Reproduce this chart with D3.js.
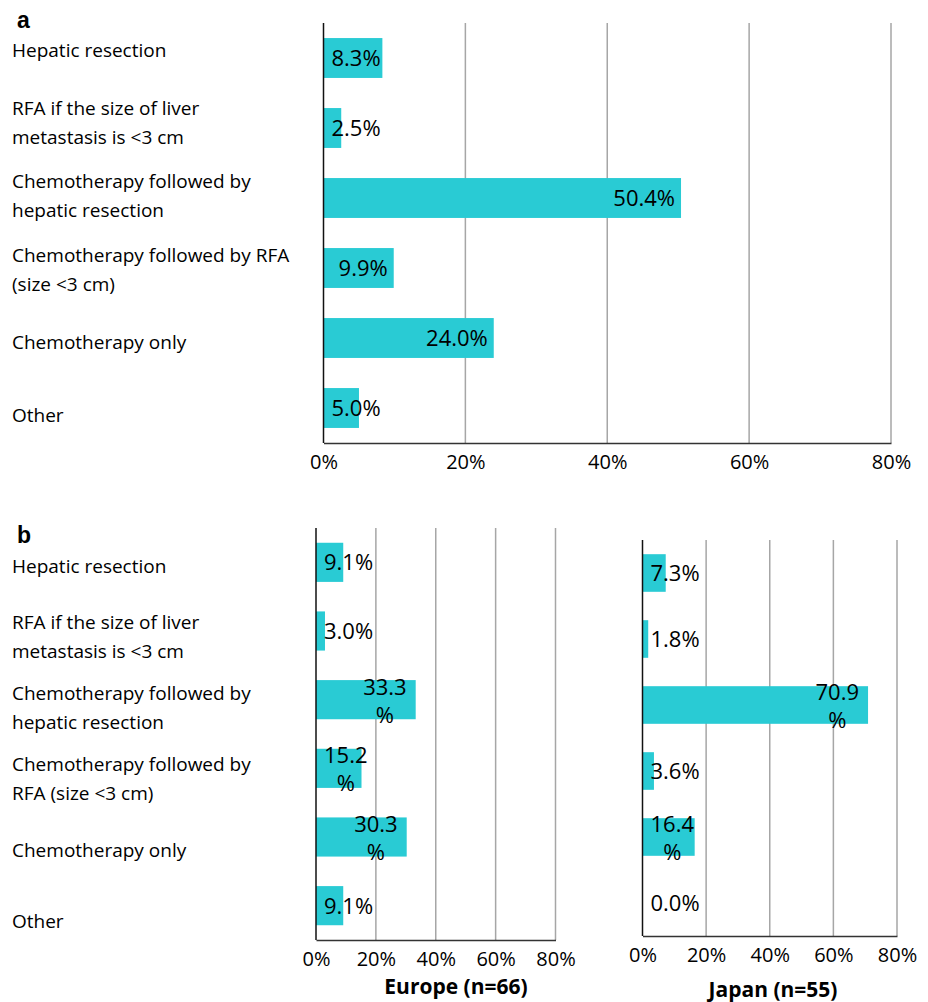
<!DOCTYPE html>
<html>
<head>
<meta charset="utf-8">
<script src="https://cdn.jsdelivr.net/npm/d3@7"></script>
<style>
    body { margin: 0; background: #fff; }
    svg text { font-family: "Open Sans", sans-serif; fill: #000; }
</style>
</head>
<body>
<svg id="chart" width="928" height="1002"></svg>
<script>
// category labels, already broken into lines the way each panel shows them
var categoriesA = [
    ["Hepatic resection"],
    ["RFA if the size of liver", "metastasis is <3 cm"],
    ["Chemotherapy followed by", "hepatic resection"],
    ["Chemotherapy followed by RFA", "(size <3 cm)"],
    ["Chemotherapy only"],
    ["Other"]
];
var categoriesB = [
    ["Hepatic resection"],
    ["RFA if the size of liver", "metastasis is <3 cm"],
    ["Chemotherapy followed by", "hepatic resection"],
    ["Chemotherapy followed by", "RFA (size <3 cm)"],
    ["Chemotherapy only"],
    ["Other"]
];

// percent of respondents
var overallValues = [8.3, 2.5, 50.4, 9.9, 24.0, 5.0];
var europeValues = [9.1, 3.0, 33.3, 15.2, 30.3, 9.1];
var japanValues = [7.3, 1.8, 70.9, 3.6, 16.4, 0.0];

var tickValues = [0, 20, 40, 60, 80];
var titles = ["Europe (n=66)", "Japan (n=55)"];

var barColor = "#29cbd4";
var svg = d3.select("#chart");

/**
 * Left hand category labels
 */
function drawCategories(lines, y0, y1) {
    var ly = d3.scaleBand().domain(d3.range(lines.length)).range([y0, y1]);
    var lh = 29;

    lines.forEach(function (l, i) {
        var c = ly(i) + ly.bandwidth() / 2;
        var t = svg.append("text")
            .attr("font-size", 19)
            .attr("x", 12);
        l.forEach(function (s, k) {
            t.append("tspan")
                .attr("x", 12)
                .attr("y", c - (l.length - 1) * lh / 2 + k * lh + 6)
                .text(s);
        });
    });
}

/**
 * One horizontal bar chart
 */
function drawBars(o) {
    var g = svg.append("g");

    var x = d3.scaleLinear().domain([0, 80]).range([o.x0, o.x1]);
    var y = d3.scaleBand().domain(d3.range(o.values.length))
        .range([o.top, o.bottom])
        .paddingInner(0.43)
        .paddingOuter(0.215);

    // gridlines
    g.selectAll(".grid").data(tickValues.slice(1)).enter()
        .append("line")
        .attr("x1", function (d) { return x(d); })
        .attr("x2", function (d) { return x(d); })
        .attr("y1", o.top)
        .attr("y2", o.bottom)
        .attr("stroke", "#a6a6a6")
        .attr("stroke-width", 1.5);

    g.selectAll(".bar").data(o.values).enter()
        .append("rect")
        .attr("x", x(0))
        .attr("y", function (d, i) { return y(i); })
        .attr("width", function (d) { return x(d) - x(0); })
        .attr("height", y.bandwidth())
        .attr("fill", barColor);

    // axis lines
    g.append("line")
        .attr("x1", x(0)).attr("x2", x(0))
        .attr("y1", o.top).attr("y2", o.bottom)
        .attr("stroke", "#111").attr("stroke-width", 1.5);

    var axis = g.append("g")
        .attr("transform", "translate(0," + o.bottom + ")")
        .call(d3.axisBottom(x)
            .tickValues(tickValues)
            .tickSize(0)
            .tickPadding(12)
            .tickFormat(function (d) { return d + "%"; }));
    axis.select(".domain").attr("stroke", "#333").attr("stroke-width", 1.5);
    axis.selectAll("text")
        .attr("font-family", '"Open Sans", sans-serif')
        .attr("font-size", 20)
        .attr("fill", "#000");

    // value labels
    o.values.forEach(function (v, i) {
        var c = y(i) + y.bandwidth() / 2;
        var s = v.toFixed(1) + "%";
        var t = g.append("text").attr("font-size", 22).text(s);
        var w = t.node().getComputedTextLength();

        if (w <= o.wrapWidth) {
            t.attr("x", Math.max(x(v) - 6 - w, x(0) + 8))
                .attr("y", c + 8);
        } else {
            t.text(s.slice(0, -1));
            var w1 = t.node().getComputedTextLength();
            var cx = Math.max(x(v) - 9 - w1, x(0) + 8) + w1 / 2;
            t.text(null).attr("text-anchor", "middle");
            t.append("tspan").attr("x", cx).attr("y", c - 5).text(s.slice(0, -1));
            t.append("tspan").attr("x", cx).attr("y", c + 23).text("%");
        }
    });

    if (o.title) {
        g.append("text")
            .attr("x", o.titleX)
            .attr("y", o.titleY)
            .attr("text-anchor", "middle")
            .attr("font-size", 21)
            .attr("font-weight", "bold")
            .text(o.title);
    }
}

// panel letters
svg.append("text").attr("x", 17).attr("y", 28)
    .style("font-family", '"Liberation Sans", Arial, sans-serif')
    .attr("font-size", 23).attr("font-weight", "bold").text("a");
svg.append("text").attr("x", 17).attr("y", 543)
    .style("font-family", '"Liberation Sans", Arial, sans-serif')
    .attr("font-size", 23).attr("font-weight", "bold").text("b");

// panel a
drawCategories(categoriesA, 14, 453);
drawBars({ values: overallValues, x0: 323.5, x1: 891, top: 23, bottom: 443, wrapWidth: 200 });

// panel b
drawCategories(categoriesB, 531, 957);
drawBars({ values: europeValues, x0: 316, x1: 555.5, top: 528, bottom: 940,
    wrapWidth: 55, title: titles[0], titleX: 456, titleY: 994 });
drawBars({ values: japanValues, x0: 642.5, x1: 897, top: 540, bottom: 936,
    wrapWidth: 55, title: titles[1], titleX: 773, titleY: 997 });
</script>
</body>
</html>
